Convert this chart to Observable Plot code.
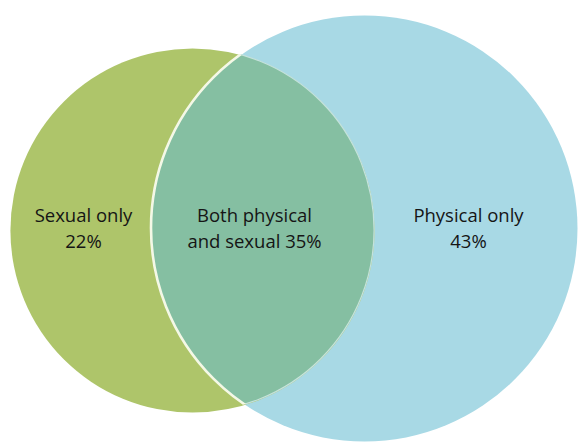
<!DOCTYPE html>
<html><head><meta charset="utf-8">
<script src="https://cdn.jsdelivr.net/npm/d3@7"></script>
<script src="https://cdn.jsdelivr.net/npm/@observablehq/plot@0.6"></script>
<style>html,body{margin:0;padding:0;background:#fff;overflow:hidden}</style>
</head><body><div id="chart"></div>
<script>
// ---- data ----
const setNames = ["Sexual", "Physical"];
const onlyValues = [22, 43];
const bothValue = 35;
const regionLines = ["Sexual only", "Both physical", "Physical only"];
const regionPrefix = ["", "and sexual ", ""];
const regionValues = [22, 35, 43];

// ---- layout & style ----
const W = 580, H = 442;
const setCx = [192, 364], setCy = [230, 228];
const labelX = [83, 254, 468], labelY = 226;
const setColors = ["#aec56a", "#a8d9e5"];
const bothColor = "#85bfa2";

const sets = setNames.map((name, i) => ({name, total: onlyValues[i] + bothValue, cx: setCx[i], cy: setCy[i], color: setColors[i]}));
const regions = regionLines.map((l, i) => ({text: `${l}\n${regionPrefix[i]}${regionValues[i]}%`, x: labelX[i], y: labelY}));

const chart = Plot.plot({
  width: W, height: H, margin: 0,
  style: {fontFamily: "'Open Sans', sans-serif", background: "#fff"},
  x: {domain: [0, W], range: [0, W], axis: null},
  y: {domain: [0, H], range: [0, H], axis: null},
  r: {type: "sqrt", domain: [0, d3.max(sets, d => d.total)], range: [0, 213]},
  color: {type: "identity"},
  marks: [
    Plot.dot(sets, {x: "cx", y: "cy", r: "total", fill: "color", stroke: "none"}),
    Plot.text(regions, {x: "x", y: "y", text: "text", fontSize: 18.5, fill: "#151515", lineHeight: 1.45})
  ]
});
document.getElementById("chart").appendChild(chart);

// ---- overlap region drawn via Plot's own scales ----
const xs = chart.scale("x"), ys = chart.scale("y"), rs = chart.scale("r");
const geo = sets.map(d => ({cx: xs.apply(d.cx), cy: ys.apply(d.cy), r: rs.apply(d.total)}));
const svg = d3.select(chart);
const defs = svg.insert("defs", ":first-child");
geo.forEach((g, i) => {
  defs.append("clipPath").attr("id", "vclip" + i)
    .append("circle").attr("cx", g.cx).attr("cy", g.cy).attr("r", g.r);
});
const textNode = chart.lastChild;
const lensG = document.createElementNS("http://www.w3.org/2000/svg", "g");
chart.insertBefore(lensG, textNode);
const lg = d3.select(lensG);
lg.append("circle").attr("cx", geo[0].cx).attr("cy", geo[0].cy).attr("r", geo[0].r)
  .attr("fill", bothColor).attr("clip-path", "url(#vclip1)");
lg.append("circle").attr("cx", geo[0].cx).attr("cy", geo[0].cy).attr("r", geo[0].r)
  .attr("fill", "none").attr("stroke", "#c4e2dc").attr("stroke-width", 1.2).attr("clip-path", "url(#vclip1)");
lg.append("circle").attr("cx", geo[1].cx).attr("cy", geo[1].cy).attr("r", geo[1].r)
  .attr("fill", "none").attr("stroke", "#f4f8e6").attr("stroke-width", 2.6).attr("clip-path", "url(#vclip0)");
</script>
</body></html>
